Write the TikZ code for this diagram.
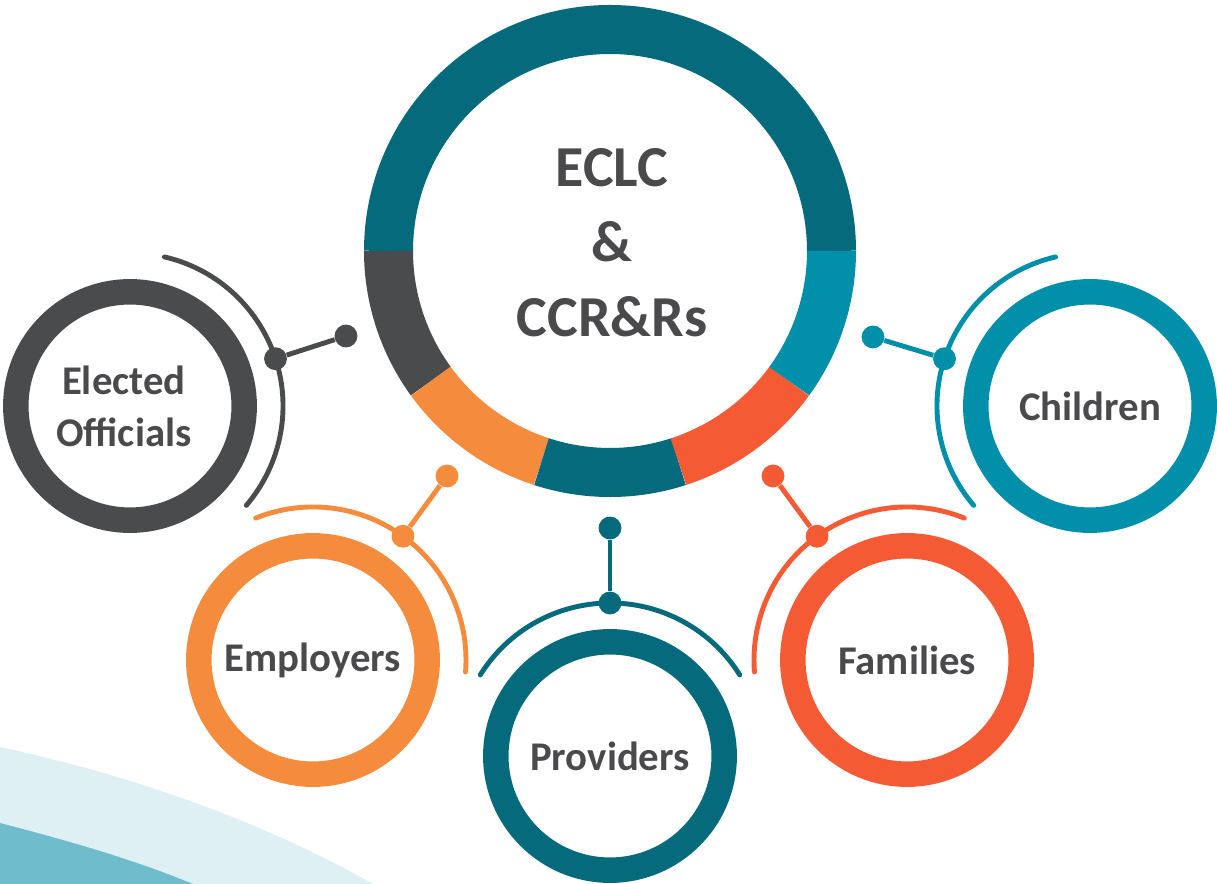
\documentclass[tikz,border=0pt]{standalone}
\usepackage{fontspec}
\setmainfont{Carlito}
\definecolor{dteal}{RGB}{5,106,123}
\definecolor{lteal}{RGB}{2,143,170}
\definecolor{grey}{RGB}{74,75,77}
\definecolor{orange}{RGB}{245,140,61}
\definecolor{red}{RGB}{244,91,52}
\definecolor{txt}{RGB}{74,74,76}
\definecolor{wavelight}{RGB}{223,240,244}
\definecolor{wavedark}{RGB}{111,189,204}
\tikzset{
	sat/.style={circle, draw=#1, line width=14.5pt, minimum size=130pt, inner sep=0pt, align=center, text=txt, font=\fontsize{23.2}{29.6}\selectfont\bfseries},
	hubtext/.style={align=center, text=txt, font=\fontsize{33}{42.7}\selectfont\bfseries},
	seg/.style={draw=#1, line width=27.9pt},
	orbit/.style={draw=#1, line width=2.8pt, line cap=round},
	dot/.style={circle, fill=#1, minimum size=13pt, inner sep=0pt},
	link/.style={draw=#1, line width=2.8pt},
}
\begin{document}
\begin{tikzpicture}[x=0.02cm, y=0.02cm]
	\useasboundingbox (0,0) rectangle (1217,-884);
	\fill[wavelight] (0,-747) .. controls (130,-775) and (260,-820) .. (373,-884) -- (0,-884) -- cycle;
	\fill[wavedark] (0,-823) .. controls (65,-840) and (130,-858) .. (193,-884) -- (0,-884) -- cycle;

	\coordinate (hubc) at (610,-251);
	\draw[seg=dteal] ([shift={(0:221.5)}]hubc) arc[start angle=0, end angle=180, radius=221.5];
	\draw[seg=grey] ([shift={(180:221.5)}]hubc) arc[start angle=180, end angle=216, radius=221.5];
	\draw[seg=orange] ([shift={(216:221.5)}]hubc) arc[start angle=216, end angle=252, radius=221.5];
	\draw[seg=dteal] ([shift={(252:221.5)}]hubc) arc[start angle=252, end angle=288, radius=221.5];
	\draw[seg=red] ([shift={(288:221.5)}]hubc) arc[start angle=288, end angle=324, radius=221.5];
	\draw[seg=lteal] ([shift={(324:221.5)}]hubc) arc[start angle=324, end angle=360, radius=221.5];
	\node[hubtext] (hub) at (612,-243) {ECLC\\\&\\CCR\&Rs};

	\node[sat=grey] (elected) at (130,-406) {Elected\hspace*{7pt}\\Officials\hspace*{7pt}};
	\node[sat=lteal] (children) at (1090,-406) {Children};
	\node[sat=orange] (employers) at (313,-660) {Employers};
	\node[sat=dteal] (providers) at (610,-756) {Providers};
	\node[sat=red] (families) at (907,-660) {Families};

	\draw[orbit=grey] ([shift={(77:153)}]elected.center) arc[start angle=77, end angle=-40.5, radius=153];
	\draw[orbit=lteal] ([shift={(103:153)}]children.center) arc[start angle=103, end angle=220.5, radius=153];
	\draw[orbit=orange] ([shift={(112:153)}]employers.center) arc[start angle=112, end angle=-4.5, radius=153];
	\draw[orbit=dteal] ([shift={(148:153)}]providers.center) arc[start angle=148, end angle=32, radius=153];
	\draw[orbit=red] ([shift={(68:153)}]families.center) arc[start angle=68, end angle=184.5, radius=153];

	\node[dot=grey] (elected-in) at ([shift={(18:153)}]elected.center) {};
	\node[dot=grey] (elected-out) at (346,-336) {};
	\node[dot=lteal] (children-in) at ([shift={(162:153)}]children.center) {};
	\node[dot=lteal] (children-out) at (873,-337) {};
	\node[dot=orange] (employers-in) at ([shift={(54:153)}]employers.center) {};
	\node[dot=orange] (employers-out) at (447,-476) {};
	\node[dot=dteal] (providers-in) at ([shift={(90:153)}]providers.center) {};
	\node[dot=dteal] (providers-out) at (610,-528) {};
	\node[dot=red] (families-in) at ([shift={(126:153)}]families.center) {};
	\node[dot=red] (families-out) at (773,-476) {};

	\draw[link=grey] (elected-in) -- (elected-out);
	\draw[link=lteal] (children-in) -- (children-out);
	\draw[link=orange] (employers-in) -- (employers-out);
	\draw[link=dteal] (providers-in) -- (providers-out);
	\draw[link=red] (families-in) -- (families-out);
\end{tikzpicture}
\end{document}
